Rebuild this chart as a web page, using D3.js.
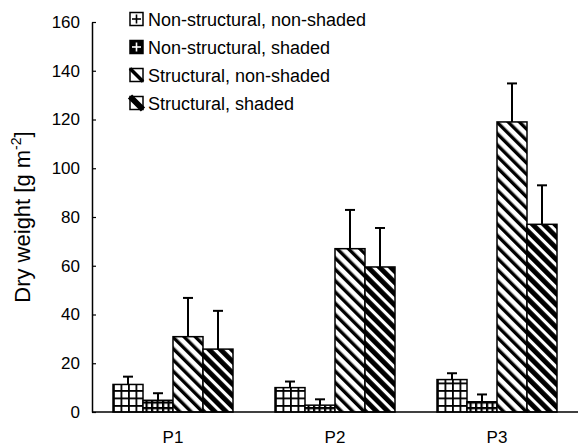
<!DOCTYPE html>
<html>
<head>
<meta charset="utf-8">
<script src="https://cdn.jsdelivr.net/npm/d3@7/dist/d3.min.js"></script>
<style>
  body { margin: 0; background: #fff; }
  svg { display: block; font-family: "Liberation Sans", Arial, sans-serif; }
</style>
</head>
<body>
<div id="chart"></div>
<script>
const periods = ["P1", "P2", "P3"];
const series = ["Non-structural, non-shaded", "Non-structural, shaded", "Structural, non-shaded", "Structural, shaded"];
const means = [
  [11.3, 4.8, 30.9, 25.8],
  [10.0, 2.8, 67.0, 59.5],
  [13.3, 4.2, 119.0, 77.0]
];
const errors = [
  [3.2, 2.9, 15.9, 15.7],
  [2.5, 2.4, 15.9, 16.0],
  [2.6, 3.0, 15.8, 16.0]
];
const yTicks = [0, 20, 40, 60, 80, 100, 120, 140, 160];

const width = 578, height = 448;
const svg = d3.select("#chart").append("svg")
  .attr("width", width).attr("height", height);

// fill patterns
const defs = svg.append("defs");
const grid = defs.append("pattern").attr("id", "p0")
  .attr("patternUnits", "userSpaceOnUse").attr("width", 7.5).attr("height", 7.5);
grid.append("rect").attr("width", 7.5).attr("height", 7.5).attr("fill", "#fff");
grid.append("rect").attr("width", 1.8).attr("height", 7.5).attr("fill", "#000");
grid.append("rect").attr("width", 7.5).attr("height", 1.8).attr("fill", "#000");

const grid2 = defs.append("pattern").attr("id", "p1")
  .attr("patternUnits", "userSpaceOnUse").attr("width", 5.5).attr("height", 5.5);
grid2.append("rect").attr("width", 5.5).attr("height", 5.5).attr("fill", "#fff");
grid2.append("rect").attr("width", 2.2).attr("height", 5.5).attr("fill", "#000");
grid2.append("rect").attr("width", 5.5).attr("height", 2.2).attr("fill", "#000");

[["p2", 3.4], ["p3", 4.9]].forEach(([id, w]) => {
  const p = defs.append("pattern").attr("id", id)
    .attr("patternUnits", "userSpaceOnUse").attr("width", 8).attr("height", 8)
    .attr("patternTransform", "rotate(-45)");
  p.append("rect").attr("width", 8).attr("height", 8).attr("fill", "#fff");
  p.append("rect").attr("width", w).attr("height", 8).attr("fill", "#000");
});

const axisX = 92, baseY = 412, topY = 22;
const y = d3.scaleLinear().domain([0, 160]).range([baseY, topY]);
const x0 = d3.scaleBand().domain(periods).range([axisX, width]);
const x1 = d3.scaleBand().domain(d3.range(series.length)).range([-60, 60]);

// bars
const groups = svg.append("g").selectAll("g").data(periods).join("g")
  .attr("transform", d => `translate(${x0(d) + x0.bandwidth() / 2},0)`);

groups.each(function (p, gi) {
  const g = d3.select(this);
  const rows = means[gi].map((m, si) => ({ si, m, e: errors[gi][si] }));
  g.selectAll("line.err").data(rows).join("line").attr("class", "err")
    .attr("x1", d => x1(d.si) + x1.bandwidth() / 2).attr("x2", d => x1(d.si) + x1.bandwidth() / 2)
    .attr("y1", d => y(d.m)).attr("y2", d => y(d.m + d.e))
    .attr("stroke", "#000").attr("stroke-width", 2);
  g.selectAll("line.cap").data(rows).join("line").attr("class", "cap")
    .attr("x1", d => x1(d.si) + x1.bandwidth() / 2 - 5).attr("x2", d => x1(d.si) + x1.bandwidth() / 2 + 5)
    .attr("y1", d => y(d.m + d.e)).attr("y2", d => y(d.m + d.e))
    .attr("stroke", "#000").attr("stroke-width", 2);
  g.selectAll("rect").data(rows).join("rect")
    .attr("x", d => x1(d.si)).attr("width", x1.bandwidth())
    .attr("y", d => y(d.m)).attr("height", d => y(0) - y(d.m))
    .attr("fill", d => `url(#p${d.si})`)
    .attr("stroke", "#000").attr("stroke-width", 1.5);
});

// y axis
const yAxis = svg.append("g").attr("transform", `translate(${axisX},0)`)
  .call(d3.axisLeft(y).tickValues(yTicks).tickSizeInner(-4).tickSizeOuter(0).tickPadding(12));
yAxis.select(".domain").attr("stroke", "#000").attr("stroke-width", 1.5);
yAxis.selectAll(".tick line").attr("stroke", "#000").attr("stroke-width", 1.2);
yAxis.selectAll(".tick text").attr("font-size", 17).attr("fill", "#000")
  .attr("font-family", "Liberation Sans, Arial, sans-serif");

// x axis baseline
svg.append("line").attr("x1", axisX).attr("x2", width).attr("y1", baseY).attr("y2", baseY)
  .attr("stroke", "#000").attr("stroke-width", 1.5);

svg.append("g").selectAll("text").data(periods).join("text")
  .attr("x", d => x0(d) + x0.bandwidth() / 2).attr("y", 443)
  .attr("text-anchor", "middle").attr("font-size", 17).text(d => d);

// y title
const yt = svg.append("text")
  .attr("transform", `translate(30,${(baseY + topY) / 2}) rotate(-90)`)
  .attr("text-anchor", "middle").attr("font-size", 22);
yt.append("tspan").text("Dry weight [g m");
yt.append("tspan").attr("font-size", 14).attr("dy", -9).text("-2");
yt.append("tspan").attr("dy", 9).text("]");

// legend
const legend = svg.append("g").selectAll("g").data(series).join("g")
  .attr("transform", (d, i) => `translate(130,${19 + i * 28})`);
legend.append("text").attr("x", 18).attr("y", 6.5).attr("font-size", 18).text(d => d);

legend.each(function (d, i) {
  const g = d3.select(this);
  const s = 13, h = s / 2;
  g.append("rect").attr("x", 0).attr("y", -h).attr("width", s).attr("height", s)
    .attr("fill", i === 1 ? "#000" : "#fff").attr("stroke", "#000").attr("stroke-width", 1.5);
  if (i < 2) {
    const c = i === 0 ? "#000" : "#fff";
    g.append("line").attr("x1", h).attr("x2", h).attr("y1", -h + 2).attr("y2", h - 2).attr("stroke", c).attr("stroke-width", 1.6);
    g.append("line").attr("x1", 2).attr("x2", s - 2).attr("y1", 0).attr("y2", 0).attr("stroke", c).attr("stroke-width", 1.6);
  } else {
    g.append("line").attr("x1", 0).attr("y1", -h).attr("x2", s).attr("y2", h)
      .attr("stroke", "#000").attr("stroke-width", i === 2 ? 3.5 : 6);
  }
});
</script>
</body>
</html>
